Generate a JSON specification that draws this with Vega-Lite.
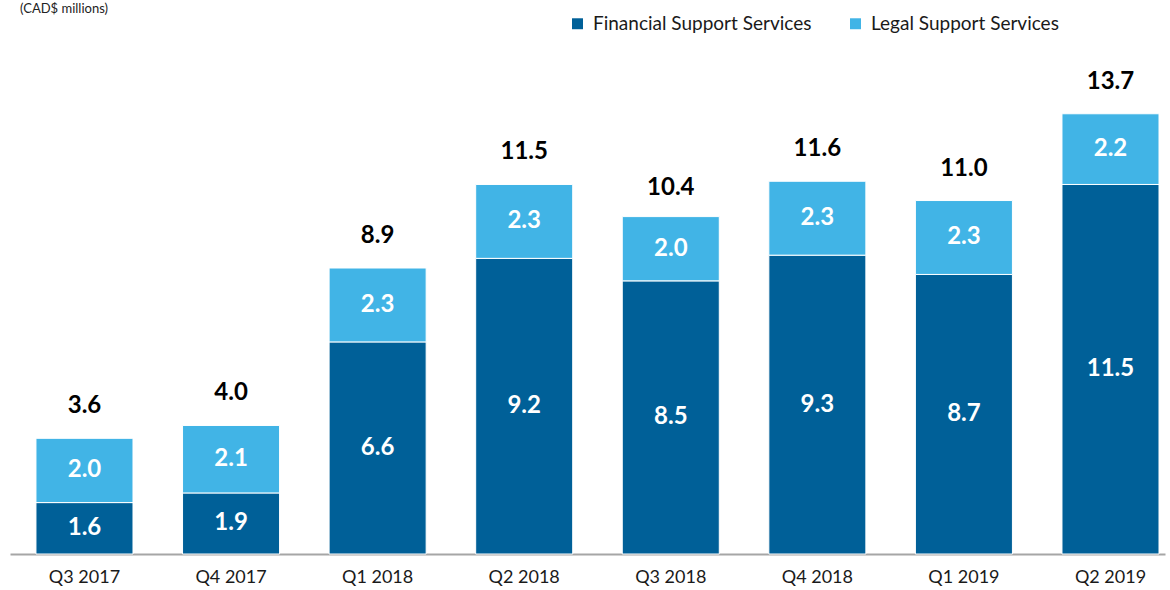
{
  "$schema": "https://vega.github.io/schema/vega-lite/v6.json",
  "autosize": {"type": "none"},
  "width": 1155,
  "height": 482,
  "padding": {"left": 10, "top": 72, "right": 5, "bottom": 36},
  "background": "white",
  "config": {
    "font": "Lato",
    "view": {"stroke": null}
  },
  "title": {
    "text": "(CAD$ millions)",
    "anchor": "start",
    "frame": "group",
    "fontSize": 13,
    "fontWeight": "normal",
    "color": "#222222",
    "offset": -2,
    "dx": 10
  },
  "datasets": {
    "segments": [
      {"quarter": "Q3 2017", "series": "Financial Support Services", "value": 1.6},
      {"quarter": "Q3 2017", "series": "Legal Support Services", "value": 2.0},
      {"quarter": "Q4 2017", "series": "Financial Support Services", "value": 1.9},
      {"quarter": "Q4 2017", "series": "Legal Support Services", "value": 2.1},
      {"quarter": "Q1 2018", "series": "Financial Support Services", "value": 6.6},
      {"quarter": "Q1 2018", "series": "Legal Support Services", "value": 2.3},
      {"quarter": "Q2 2018", "series": "Financial Support Services", "value": 9.2},
      {"quarter": "Q2 2018", "series": "Legal Support Services", "value": 2.3},
      {"quarter": "Q3 2018", "series": "Financial Support Services", "value": 8.5},
      {"quarter": "Q3 2018", "series": "Legal Support Services", "value": 2.0},
      {"quarter": "Q4 2018", "series": "Financial Support Services", "value": 9.3},
      {"quarter": "Q4 2018", "series": "Legal Support Services", "value": 2.3},
      {"quarter": "Q1 2019", "series": "Financial Support Services", "value": 8.7},
      {"quarter": "Q1 2019", "series": "Legal Support Services", "value": 2.3},
      {"quarter": "Q2 2019", "series": "Financial Support Services", "value": 11.5},
      {"quarter": "Q2 2019", "series": "Legal Support Services", "value": 2.2}
    ],
    "totals": [
      {"quarter": "Q3 2017", "total": 3.6},
      {"quarter": "Q4 2017", "total": 4.0},
      {"quarter": "Q1 2018", "total": 8.9},
      {"quarter": "Q2 2018", "total": 11.5},
      {"quarter": "Q3 2018", "total": 10.4},
      {"quarter": "Q4 2018", "total": 11.6},
      {"quarter": "Q1 2019", "total": 11.0},
      {"quarter": "Q2 2019", "total": 13.7}
    ]
  },
  "encoding": {
    "x": {
      "field": "quarter",
      "type": "nominal",
      "sort": null,
      "scale": {"paddingInner": 0.338, "paddingOuter": 0.109, "align": 0.8125},
      "axis": {
        "title": null,
        "labelAngle": 0,
        "labelFontSize": 18,
        "labelColor": "#1a1a1a",
        "labelPadding": 14,
        "ticks": false,
        "domainColor": "#a6a6a6",
        "domainWidth": 2
      }
    }
  },
  "layer": [
    {
      "data": {"name": "segments"},
      "transform": [
        {"stack": "value", "groupby": ["quarter"], "sort": [{"field": "series", "order": "ascending"}], "as": ["y0", "y1"]}
      ],
      "mark": {"type": "bar", "stroke": "white", "strokeWidth": 1},
      "encoding": {
        "y": {"field": "y0", "type": "quantitative", "scale": {"domain": [0, 15]}, "axis": null},
        "y2": {"field": "y1"},
        "color": {
          "field": "series",
          "type": "nominal",
          "scale": {"domain": ["Financial Support Services", "Legal Support Services"], "range": ["#006098", "#41B4E6"]},
          "legend": {
            "title": null,
            "orient": "none",
            "direction": "horizontal",
            "legendX": 558,
            "legendY": -58,
            "symbolType": "square",
            "symbolSize": 120,
            "symbolStrokeWidth": 0,
            "labelFontSize": 19,
            "labelLimit": 400,
            "labelColor": "#1a1a1a",
            "labelOffset": 6,
            "columnPadding": 34
          }
        }
      }
    },
    {
      "data": {"name": "segments"},
      "transform": [
        {"stack": "value", "groupby": ["quarter"], "sort": [{"field": "series", "order": "ascending"}], "as": ["y0", "y1"]},
        {"calculate": "(datum.y0 + datum.y1) / 2", "as": "mid"}
      ],
      "mark": {"type": "text", "color": "white", "fontSize": 24, "fontWeight": "bold", "baseline": "middle"},
      "encoding": {
        "y": {"field": "mid", "type": "quantitative", "scale": {"domain": [0, 15]}, "axis": null},
        "text": {"field": "value", "type": "quantitative", "format": ".1f"}
      }
    },
    {
      "data": {"name": "totals"},
      "mark": {"type": "text", "color": "black", "fontSize": 24, "fontWeight": "bold", "baseline": "bottom", "dy": -20},
      "encoding": {
        "y": {"field": "total", "type": "quantitative", "scale": {"domain": [0, 15]}, "axis": null},
        "text": {"field": "total", "type": "quantitative", "format": ".1f"}
      }
    }
  ]
}
